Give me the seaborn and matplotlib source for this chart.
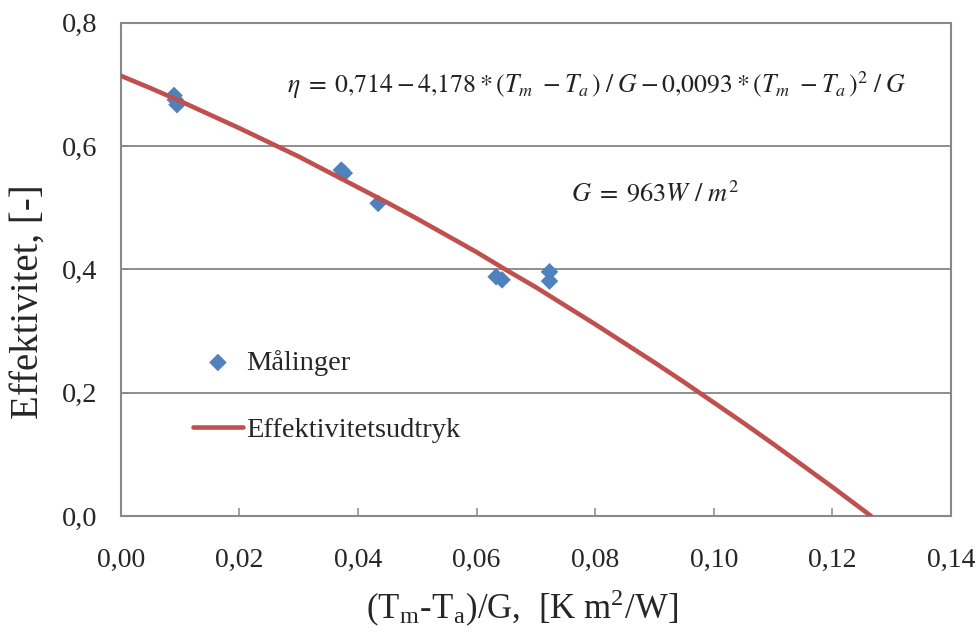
import matplotlib
matplotlib.use("Agg")
import matplotlib.pyplot as plt
import seaborn as sns
import pandas as pd

# ---- data ----
meas_x = [0.0090, 0.0092, 0.0095, 0.0372, 0.0377, 0.0434, 0.0633, 0.0643, 0.0723, 0.0723]
meas_y = [0.682, 0.675, 0.667, 0.561, 0.556, 0.507, 0.388, 0.383, 0.396, 0.381]

curve_x = [0.0, 0.005, 0.01, 0.015, 0.02, 0.025, 0.03, 0.035, 0.04, 0.045, 0.05,
           0.055, 0.06, 0.065, 0.07, 0.075, 0.08, 0.085, 0.09, 0.095, 0.10,
           0.105, 0.11, 0.115, 0.12, 0.125, 0.1265]
curve_y = [0.714, 0.694, 0.673, 0.651, 0.629, 0.606, 0.583, 0.558, 0.533, 0.508, 0.482,
           0.455, 0.428, 0.399, 0.371, 0.341, 0.311, 0.280, 0.249, 0.217, 0.184,
           0.151, 0.117, 0.082, 0.047, 0.011, 0.0]

x_ticks = [0.00, 0.02, 0.04, 0.06, 0.08, 0.10, 0.12, 0.14]
x_tick_labels = ["0,00", "0,02", "0,04", "0,06", "0,08", "0,10", "0,12", "0,14"]
y_ticks = [0.0, 0.2, 0.4, 0.6, 0.8]
y_tick_labels = ["0,0", "0,2", "0,4", "0,6", "0,8"]

label_meas = "Målinger"
label_curve = "Effektivitetsudtryk"
x_title = r"(T$_\mathregular{m}$-T$_\mathregular{a}$)/G,  [K m$^\mathregular{2}$/W]"
y_title = "Effektivitet, [-]"
eq_text = (r"$\eta\; =\; 0{,}714 - 4{,}178 * (T_{m}\ - T_{a}\,)\;/\;G - "
           r"0{,}0093 * (T_{m}\ - T_{a}\,)^{2}\; /\;G$")
g_text = r"$G\; =\; 963W\ /\ m^{2}$"

meas_df = pd.DataFrame({"x": meas_x, "y": meas_y})
curve_df = pd.DataFrame({"x": curve_x, "y": curve_y})

# ---- style ----
sns.set_theme(style="white")
plt.rcParams["font.family"] = ["Liberation Serif", "DejaVu Serif"]
plt.rcParams["mathtext.fontset"] = "stix"

grey = "#898989"
fig = plt.figure(figsize=(9.78, 6.33), dpi=100)
W, H = 978, 633
x0, x1, yb, yt = 120.7, 951, 516, 22.7
ax = fig.add_axes([x0 / W, (H - yb) / H, (x1 - x0) / W, (yb - yt) / H])

sns.scatterplot(data=meas_df, x="x", y="y", marker="D", s=80, color="#4F81BD",
                edgecolor="none", linewidth=0, ax=ax, label=label_meas, zorder=3)
sns.lineplot(data=curve_df, x="x", y="y", color="#C0504D", linewidth=3.3,
             ax=ax, label=label_curve, sort=False, zorder=4)

ax.set_xlim(0, 0.14)
ax.set_ylim(0, 0.8)
ax.set_xticks(x_ticks)
ax.set_xticklabels(x_tick_labels)
ax.set_yticks(y_ticks)
ax.set_yticklabels(y_tick_labels)

ax.tick_params(axis="x", direction="in", length=6, width=1.1, color=grey,
               labelsize=20, pad=23, bottom=True)
ax.tick_params(axis="y", direction="in", length=6, width=1.1, color=grey,
               labelsize=20.5, pad=17, left=True)

ax.yaxis.grid(True, color="#868686", linewidth=1.3)
ax.xaxis.grid(False)
ax.set_axisbelow(True)
for sp in ax.spines.values():
    sp.set_color(grey)
    sp.set_linewidth(1.5)
    sp.set_visible(True)

ax.set_xlabel(x_title, fontsize=25)
ax.xaxis.set_label_coords((522 - x0) / (x1 - x0), (yb - 608) / (yb - yt))
ax.xaxis.label.set_verticalalignment("center")
ax.set_ylabel(y_title, fontsize=28)
ax.yaxis.set_label_coords((28 - x0) / (x1 - x0), (yb - 302) / (yb - yt))
ax.yaxis.label.set_verticalalignment("center")

ax.text(0.0280, 0.698, eq_text, fontsize=18.5, ha="left", va="center", color="#222222")
ax.text(0.0760, 0.524, g_text, fontsize=19, ha="left", va="center", color="#222222")

handles, labels = ax.get_legend_handles_labels()
order = [labels.index(label_meas), labels.index(label_curve)]
ax.legend([handles[i] for i in order], [labels[i] for i in order],
          loc="upper left", bbox_to_anchor=((193 - x0) / (x1 - x0), (yb - 350) / (yb - yt)),
          frameon=False, borderpad=0, borderaxespad=0, fontsize=20.5,
          handlelength=1.75, handletextpad=0.1, labelspacing=1.45)

fig.savefig("out.png", dpi=100)
